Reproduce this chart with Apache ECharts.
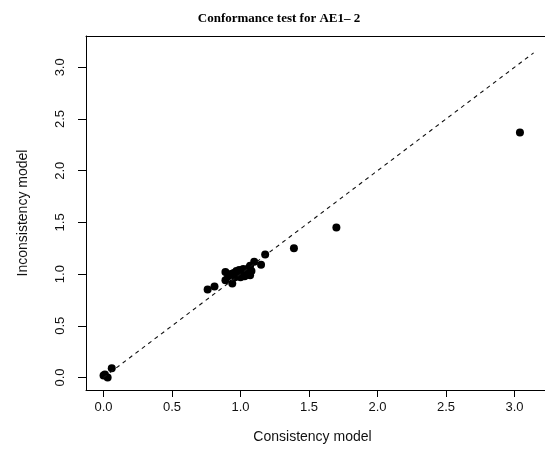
<!DOCTYPE html>
<html>
<head>
<meta charset="utf-8">
<script src="https://cdn.jsdelivr.net/npm/echarts@6/dist/echarts.min.js"></script>
<style>html,body{margin:0;padding:0;background:#fff;}#c{width:545px;height:466px;}</style>
</head>
<body>
<div id="c"></div>
<script>
const titleText = "Conformance test for AE1\u2013 2";
const xName = "Consistency model";
const yName = "Inconsistency model";
const tickValues = [0, 0.5, 1.0, 1.5, 2.0, 2.5, 3.0];
const consistency = [0.00, 0.01, 0.03, 0.06, 0.76, 0.81, 0.89, 0.89, 0.91, 0.93, 0.94, 0.95, 0.96, 0.97, 0.98, 0.99, 1.00, 1.00, 1.01, 1.02, 1.03, 1.04, 1.05, 1.06, 1.07, 1.07, 1.08, 1.10, 1.15, 1.18, 1.39, 1.70, 3.04];
const inconsistency = [0.02, 0.03, 0.00, 0.09, 0.85, 0.88, 1.02, 0.94, 0.98, 1.00, 0.91, 1.01, 0.97, 1.03, 0.99, 1.04, 0.97, 1.01, 1.00, 1.05, 0.98, 1.02, 1.00, 1.06, 1.08, 0.99, 1.03, 1.12, 1.09, 1.19, 1.25, 1.45, 2.37];
const refLine = [[0, 0], [3.14, 3.14]];

const points = consistency.map((v, i) => [v, inconsistency[i]]);
const chart = echarts.init(document.getElementById('c'), null, {renderer: 'canvas'});
const sansFont = 'Liberation Sans, Arial, sans-serif';
const X_MIN = -0.128, X_MAX = 3.223, Y_MIN = -0.121, Y_MAX = 3.303;
chart.setOption({
  animation: false,
  backgroundColor: '#fff',
  title: {
    text: titleText, left: 274, top: 7, textAlign: 'center',
    textStyle: {fontFamily: 'Liberation Serif, Times New Roman, serif', fontWeight: 'bold', fontSize: 13, color: '#000'}
  },
  grid: {left: 86, top: 36, bottom: 76, right: 0, show: false, containLabel: false},
  xAxis: [{
    type: 'value', min: X_MIN, max: X_MAX, position: 'bottom',
    name: xName, nameLocation: 'middle', nameGap: 40,
    nameTextStyle: {fontFamily: sansFont, fontSize: 14, color: '#111', padding: [0, 6, 0, 0]},
    axisLine: {show: true, onZero: false, lineStyle: {color: '#000', width: 1}},
    splitLine: {show: false},
    axisTick: {show: true, customValues: tickValues, length: 7, lineStyle: {color: '#000'}},
    axisLabel: {customValues: tickValues, margin: 11, fontFamily: sansFont, fontSize: 13, color: '#111',
      formatter: v => v.toFixed(1)}
  }, {
    type: 'value', min: X_MIN, max: X_MAX, position: 'top',
    axisLine: {show: true, onZero: false, lineStyle: {color: '#000', width: 1}},
    splitLine: {show: false}, axisTick: {show: false}, axisLabel: {show: false}
  }],
  yAxis: {
    type: 'value', min: Y_MIN, max: Y_MAX,
    name: yName, nameLocation: 'middle', nameGap: 56,
    nameTextStyle: {fontFamily: sansFont, fontSize: 14, color: '#111'},
    axisLine: {show: true, onZero: false, lineStyle: {color: '#000', width: 1}},
    splitLine: {show: false},
    axisTick: {show: true, customValues: tickValues, length: 8, lineStyle: {color: '#000'}},
    axisLabel: {customValues: tickValues, rotate: 90, margin: 19, fontFamily: sansFont, fontSize: 13, color: '#111',
      formatter: v => v.toFixed(1)}
  },
  series: [
    {type: 'line', data: refLine, symbol: 'none', silent: true,
      lineStyle: {color: '#111', width: 1.1, type: [4, 4]}},
    {type: 'scatter', data: points, symbol: 'circle', symbolSize: 8,
      itemStyle: {color: '#000', opacity: 1}}
  ]
});
</script>
</body>
</html>
